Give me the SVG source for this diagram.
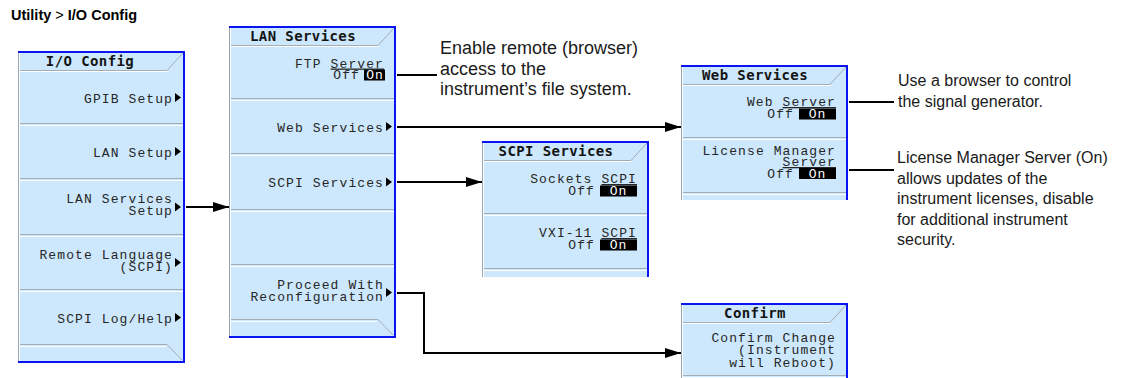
<svg xmlns="http://www.w3.org/2000/svg" xmlns:xlink="http://www.w3.org/1999/xlink" width="1131" height="378" viewBox="0 0 1131 378">
<style>
.panel{fill:#cde8fc}
.blue{fill:#0a14f0}
.sep{stroke:#a3adb6;stroke-width:1;fill:none}
.hl{stroke:#ffffff;stroke-width:1;fill:none}
.mt{font-family:"Liberation Mono","DejaVu Sans Mono",monospace;font-size:13px;fill:#262626;text-anchor:end;letter-spacing:1.1px}
.tt{font-family:"DejaVu Sans Mono","Liberation Mono",monospace;font-weight:bold;font-size:14px;fill:#141414;text-anchor:middle;letter-spacing:0.4px}
.onbox{fill:#000}
.ont{font-family:"Liberation Mono","DejaVu Sans Mono",monospace;font-size:13px;fill:#fff;text-anchor:middle;letter-spacing:1px}
.tri{fill:#000}
.ann{font-family:"Liberation Sans",Arial,sans-serif;font-size:16px;fill:#1a1a1a}
.annL{font-family:"Liberation Sans",Arial,sans-serif;font-size:18px;fill:#1a1a1a}
.hdr{font-family:"Liberation Sans",Arial,sans-serif;font-size:14.5px;fill:#000}
.conn{stroke:#000;stroke-width:2;fill:none}
</style>
<defs>
<marker id="ah" markerUnits="userSpaceOnUse" markerWidth="16" markerHeight="10" refX="16" refY="5" orient="auto">
<path d="M0,0 L16,5 L0,10 z" fill="#000"/>
</marker>
<g id="frame312">
<rect width="167" height="312" class="panel"/>
<line x1="0.5" y1="0" x2="0.5" y2="312" stroke="#9aa4ac"/>
<line x1="1.5" y1="2" x2="1.5" y2="310" class="hl"/>
<polyline points="2,19.5 149,19.5 165,2" class="sep"/>
<polyline points="2,20.5 149.5,20.5" class="hl"/>
<line x1="2" y1="72.5" x2="165" y2="72.5" class="sep"/><line x1="2" y1="74.5" x2="165" y2="74.5" class="hl"/>
<line x1="2" y1="127.5" x2="165" y2="127.5" class="sep"/><line x1="2" y1="129.5" x2="165" y2="129.5" class="hl"/>
<line x1="2" y1="183.5" x2="165" y2="183.5" class="sep"/><line x1="2" y1="185.5" x2="165" y2="185.5" class="hl"/>
<line x1="2" y1="238.5" x2="165" y2="238.5" class="sep"/><line x1="2" y1="240.5" x2="165" y2="240.5" class="hl"/>
<polyline points="2,293.5 149,293.5 164,309" class="sep"/>
<line x1="2" y1="295.5" x2="148" y2="295.5" class="hl"/>
<rect width="167" height="2" class="blue"/>
<rect x="165" width="2" height="312" class="blue"/>
<rect y="310" width="167" height="2" class="blue"/>
</g>
</defs>

<text class="hdr" x="11" y="20"><tspan font-weight="bold">Utility</tspan> &gt; <tspan font-weight="bold">I/O Config</tspan></text>

<g id="io-config" transform="translate(18,51)">
<use xlink:href="#frame312"/>
<text class="tt" x="72" y="15">I/O Config</text>
<text class="mt" x="155" y="51.5">GPIB Setup</text>
<polygon class="tri" points="157,42 163,46.5 157,51"/>
<text class="mt" x="155" y="105.5">LAN Setup</text>
<polygon class="tri" points="157,96 163,100.5 157,105"/>
<text class="mt" x="155" y="152">LAN Services</text>
<text class="mt" x="155" y="164">Setup</text>
<polygon class="tri" points="157,151.5 163,156 157,160.5"/>
<text class="mt" x="155" y="207.5">Remote Language</text>
<text class="mt" x="155" y="219.5">(SCPI)</text>
<polygon class="tri" points="157,207 163,211.5 157,216"/>
<text class="mt" x="155" y="271.5">SCPI Log/Help</text>
<polygon class="tri" points="157,262 163,266.5 157,271"/>
</g>

<g id="lan-services" transform="translate(229,26)">
<use xlink:href="#frame312"/>
<text class="tt" x="74" y="15">LAN Services</text>
<text class="mt" x="155" y="41.5">FTP <tspan text-decoration="underline">Server</tspan></text>
<text class="mt" x="131" y="53">Off</text>
<rect class="onbox" x="135" y="43.5" width="21" height="11"/>
<text class="ont" x="146" y="53">On</text>
<text class="mt" x="155" y="105.5">Web Services</text>
<polygon class="tri" points="157,96 163,100.5 157,105"/>
<text class="mt" x="155" y="161">SCPI Services</text>
<polygon class="tri" points="157,151.5 163,156 157,160.5"/>
<text class="mt" x="155" y="262.5">Proceed With</text>
<text class="mt" x="155" y="274.5">Reconfiguration</text>
<polygon class="tri" points="157,262 163,266.5 157,271"/>
</g>

<g id="scpi-services" transform="translate(482,141)">
<rect width="167" height="136" class="panel"/>
<line x1="0.5" y1="0" x2="0.5" y2="136" stroke="#9aa4ac"/>
<line x1="1.5" y1="2" x2="1.5" y2="136" class="hl"/>
<polyline points="2,19.5 149,19.5 165,2" class="sep"/>
<line x1="2" y1="20.5" x2="149.5" y2="20.5" class="hl"/>
<line x1="2" y1="72.5" x2="165" y2="72.5" class="sep"/><line x1="2" y1="74.5" x2="165" y2="74.5" class="hl"/>
<line x1="2" y1="127.5" x2="165" y2="127.5" class="sep"/><line x1="2" y1="129.5" x2="165" y2="129.5" class="hl"/>
<rect width="167" height="2" class="blue"/>
<rect x="165" width="2" height="136" class="blue"/>
<text class="tt" x="74" y="15">SCPI Services</text>
<text class="mt" x="155" y="42">Sockets <tspan text-decoration="underline">SCPI</tspan></text>
<text class="mt" x="113" y="54">Off</text>
<rect class="onbox" x="118" y="44.5" width="37" height="11"/>
<text class="ont" x="136.5" y="54">On</text>
<text class="mt" x="155" y="96">VXI-11 <tspan text-decoration="underline">SCPI</tspan></text>
<text class="mt" x="113" y="108">Off</text>
<rect class="onbox" x="118" y="98.5" width="37" height="11"/>
<text class="ont" x="136.5" y="108">On</text>
</g>

<g id="web-services" transform="translate(681,65)">
<rect width="167" height="135" class="panel"/>
<line x1="0.5" y1="0" x2="0.5" y2="135" stroke="#9aa4ac"/>
<line x1="1.5" y1="2" x2="1.5" y2="135" class="hl"/>
<polyline points="2,19.5 149,19.5 165,2" class="sep"/>
<line x1="2" y1="20.5" x2="149.5" y2="20.5" class="hl"/>
<line x1="2" y1="72.5" x2="165" y2="72.5" class="sep"/><line x1="2" y1="74.5" x2="165" y2="74.5" class="hl"/>
<line x1="2" y1="127.5" x2="165" y2="127.5" class="sep"/><line x1="2" y1="129.5" x2="165" y2="129.5" class="hl"/>
<rect width="167" height="2" class="blue"/>
<rect x="165" width="2" height="135" class="blue"/>
<text class="tt" x="74" y="15">Web Services</text>
<text class="mt" x="155" y="41">Web <tspan text-decoration="underline">Server</tspan></text>
<text class="mt" x="113" y="53">Off</text>
<rect class="onbox" x="118" y="43.5" width="37" height="11"/>
<text class="ont" x="136.5" y="53">On</text>
<text class="mt" x="155" y="89.5">License Manager</text>
<text class="mt" x="155" y="101"><tspan text-decoration="underline">Server</tspan></text>
<text class="mt" x="113" y="112.5">Off</text>
<rect class="onbox" x="118" y="103" width="37" height="11"/>
<text class="ont" x="136.5" y="112.5">On</text>
</g>

<g id="confirm" transform="translate(681,303)">
<rect width="167" height="75" class="panel"/>
<line x1="0.5" y1="0" x2="0.5" y2="75" stroke="#9aa4ac"/>
<line x1="1.5" y1="2" x2="1.5" y2="75" class="hl"/>
<polyline points="2,19.5 149,19.5 165,2" class="sep"/>
<line x1="2" y1="20.5" x2="149.5" y2="20.5" class="hl"/>
<line x1="2" y1="72.5" x2="165" y2="72.5" class="sep"/><line x1="2" y1="74.5" x2="165" y2="74.5" class="hl"/>
<rect width="167" height="2" class="blue"/>
<rect x="165" width="2" height="75" class="blue"/>
<text class="tt" x="74" y="15">Confirm</text>
<text class="mt" x="155" y="38.5">Confirm Change</text>
<text class="mt" x="155" y="51">(Instrument</text>
<text class="mt" x="155" y="63.5">will Reboot)</text>
</g>

<g id="connectors">
<line class="conn" x1="186" y1="207" x2="229" y2="207" marker-end="url(#ah)"/>
<line class="conn" x1="397" y1="75" x2="437" y2="75"/>
<line class="conn" x1="397" y1="127" x2="681" y2="127" marker-end="url(#ah)"/>
<line class="conn" x1="397" y1="182" x2="482" y2="182" marker-end="url(#ah)"/>
<polyline class="conn" points="397,293 424,293 424,353 681,353" marker-end="url(#ah)"/>
<line class="conn" x1="849" y1="102" x2="894" y2="102"/>
<line class="conn" x1="849" y1="170" x2="894" y2="170"/>
</g>

<g id="notes">
<text class="annL" x="440" y="54">Enable remote (browser)</text>
<text class="annL" x="440" y="74.5">access to the</text>
<text class="annL" x="440" y="95">instrument’s file system.</text>
<text class="ann" x="898" y="86">Use a browser to control</text>
<text class="ann" x="898" y="106.5">the signal generator.</text>
<text class="ann" x="897" y="163">License Manager Server (On)</text>
<text class="ann" x="897" y="183.5">allows updates of the</text>
<text class="ann" x="897" y="204">instrument licenses, disable</text>
<text class="ann" x="897" y="224.5">for additional instrument</text>
<text class="ann" x="897" y="245">security.</text>
</g>
</svg>
